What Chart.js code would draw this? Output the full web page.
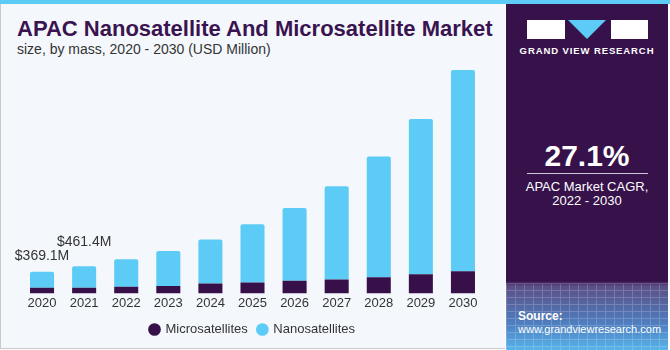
<!DOCTYPE html>
<html>
<head>
<meta charset="utf-8">
<script src="https://cdn.jsdelivr.net/npm/chart.js@4.4.0/dist/chart.umd.min.js"></script>
<style>
  body { margin: 0; background: #fff; }
  #wrap { position: relative; width: 670px; height: 350px; overflow: hidden; font-family: "Liberation Sans", Arial, sans-serif; }
  #topbar { position: absolute; left: 0; top: 0; width: 670px; height: 4px; background: #5ccbf6; }
  #left { position: absolute; left: 0; top: 4px; width: 504px; height: 344px; background: #f4f8fc; border-left: 1px solid #c9c9c9; border-bottom: 1px solid #c9c9c9; }
  #right { position: absolute; left: 506px; top: 4px; width: 162px; height: 346px;
    background: linear-gradient(to bottom, #37124a 0px, #37124a 277px, #5b4f86 282px, #4f7fc0 320px, #57b4ea 346px); }
  #grid { position: absolute; left: 0; top: 279px; width: 162px; height: 67px; opacity: 0.18;
    background:
      repeating-linear-gradient(to right, #fff 0px, #fff 1px, transparent 1px, transparent 9px),
      repeating-linear-gradient(to bottom, #fff 0px, #fff 1px, transparent 1px, transparent 7px); }
  #title { position: absolute; left: 17px; top: 16px; font-size: 22px; font-weight: bold; color: #3a1450; white-space: nowrap; }
  #subtitle { position: absolute; left: 17px; top: 41px; font-size: 14px; color: #333; white-space: nowrap; }
  canvas#chart { position: absolute; left: 0; top: 0; }
  .logo { position: absolute; background: #fff; }
  #tri { position: absolute; left: 62px; top: 16px; width: 0; height: 0; border-left: 19px solid transparent; border-right: 19px solid transparent; border-top: 19px solid #5ccbf6; }
  #gvr { position: absolute; left: 0; width: 162px; top: 41px; text-align: center; color: #fff; font-size: 9.5px; font-weight: bold; letter-spacing: 0.9px; }
  #cagr { position: absolute; left: 0; width: 162px; top: 135px; text-align: center; color: #fff; font-size: 30px; font-weight: bold; }
  #rule { position: absolute; left: 21px; width: 121px; top: 169px; height: 1px; background: #cfc6d8; }
  #cagrtxt { position: absolute; left: 0; width: 162px; top: 176px; text-align: center; color: #fff; font-size: 13px; line-height: 14px; }
  #src { position: absolute; left: 12px; top: 306px; color: #fff; font-size: 11px; line-height: 13px; }
</style>
</head>
<body>
<div id="wrap">
  <div id="topbar"></div>
  <div id="left"></div>
  <div id="title">APAC Nanosatellite And Microsatellite Market</div>
  <div id="subtitle">size, by mass, 2020 - 2030 (USD Million)</div>
  <canvas id="chart" width="505" height="350"></canvas>
  <div id="right">
    <div id="grid"></div>
    <div class="logo" style="left:21px; top:16px; width:38px; height:19px;"></div>
    <div id="tri"></div>
    <div class="logo" style="left:105px; top:16px; width:37px; height:19px;"></div>
    <div id="gvr">GRAND VIEW RESEARCH</div>
    <div id="cagr">27.1%</div>
    <div id="rule"></div>
    <div id="cagrtxt">APAC Market CAGR,<br>2022 - 2030</div>
    <div id="src"><b style="font-size:12px">Source:</b><br>www.grandviewresearch.com</div>
  </div>
</div>
<script>
const years = ['2020', '2021', '2022', '2023', '2024', '2025', '2026', '2027', '2028', '2029', '2030'];
const micro = [97, 97, 115, 125, 171, 188, 217, 239, 274, 325, 376];
const nano = [272.1, 364.4, 466, 598, 747, 992, 1242, 1591, 2064, 2650, 3437];
const valueLabels = ['$369.1M', '$461.4M'];
const labelOffsets = [16, 24];

// Labels above the first two bars
const topLabels = {
    id: 'topLabels',
    afterDatasetsDraw(chart) {
        const ctx = chart.ctx;
        const meta = chart.getDatasetMeta(1);
        ctx.save();
        ctx.font = '14px "Liberation Sans", Arial, sans-serif';
        ctx.fillStyle = '#333';
        ctx.textAlign = 'center';
        ctx.textBaseline = 'middle';
        valueLabels.forEach((txt, i) => {
            const bar = meta.data[i];
            ctx.fillText(txt, bar.x, bar.y - labelOffsets[i]);
        });
        ctx.restore();
    }
};

new Chart(document.getElementById('chart'), {
    type: 'bar',
    data: {
        labels: years,
        datasets: [{
            label: 'Microsatellites',
            data: micro,
            backgroundColor: '#37104a',
            barPercentage: 0.8,
            categoryPercentage: 0.714
        }, {
            label: 'Nanosatellites',
            data: nano,
            backgroundColor: '#5ccbf6',
            borderRadius: { topLeft: 2, topRight: 2 },
            borderSkipped: 'bottom',
            barPercentage: 0.8,
            categoryPercentage: 0.714
        }]
    },
    options: {
        responsive: false,
        animation: false,
        layout: { padding: { left: 21, right: 21, top: 59, bottom: 4 } },
        scales: {
            x: {
                stacked: true,
                grid: { display: false, drawTicks: false },
                border: { display: false },
                ticks: { color: '#333', font: { size: 13, family: '"Liberation Sans", Arial, sans-serif' }, padding: 2 }
            },
            y: { stacked: true, display: false, min: 0, max: 4000 }
        },
        plugins: {
            legend: {
                position: 'bottom',
                labels: {
                    usePointStyle: true,
                    pointStyle: 'circle',
                    boxWidth: 9,
                    boxHeight: 9,
                    color: '#333',
                    padding: 10,
                    font: { size: 13, family: '"Liberation Sans", Arial, sans-serif' }
                }
            },
            tooltip: { enabled: false }
        }
    },
    plugins: [topLabels]
});
</script>
</body>
</html>
